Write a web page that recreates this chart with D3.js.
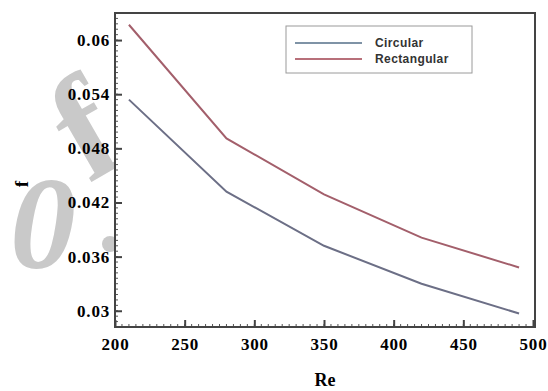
<!DOCTYPE html>
<html>
<head>
<meta charset="utf-8">
<script src="https://cdn.jsdelivr.net/npm/d3@7"></script>
<style>
  body { margin: 0; background: #fff; }
  svg { display: block; }
</style>
</head>
<body>
<svg id="board"></svg>
<script>
// data
let reValues = [210, 280, 350, 420, 490]
let circular = [0.0534, 0.0432, 0.0372, 0.0330, 0.0297]
let rectangular = [0.0617, 0.0491, 0.0429, 0.0381, 0.0348]
let seriesNames = ['Circular', 'Rectangular']
let xTicks = [200, 250, 300, 350, 400, 450, 500]
let yTicks = [0.03, 0.036, 0.042, 0.048, 0.054, 0.06]
let yTickLabels = ['0.03', '0.036', '0.042', '0.048', '0.054', '0.06']

let width = 548
let height = 391
let plotLeft = 115, plotRight = 535, plotTop = 13, plotBottom = 327

let board = d3.select('#board')
    .attr('width', width)
    .attr('height', height)

let xScale = d3.scaleLinear().domain([200, 500]).range([plotLeft, 533])
let yScale = d3.scaleLinear().domain([0.0282, 0.063]).range([plotBottom, plotTop])

// watermark in the background
let wm = board.append('g')
    .attr('fill', '#c9c9c9')
    .style('font-family', '"Liberation Serif", serif')
wm.append('text')
    .attr('x', 43).attr('y', 268)
    .attr('text-anchor', 'middle')
    .style('font-size', '132px')
    .style('font-style', 'italic')
    .style('font-weight', 'bold')
    .text('0')
wm.append('text')
    .attr('transform', 'translate(88,184) rotate(-30)')
    .style('font-size', '148px')
    .style('font-weight', 'bold')
    .text('f')
wm.append('circle')
    .attr('cx', 110).attr('cy', 244).attr('r', 8)

// plot area
board.append('rect')
    .attr('x', plotLeft).attr('y', plotTop)
    .attr('width', plotRight - plotLeft).attr('height', plotBottom - plotTop)
    .attr('fill', '#fff')

// minor ticks
let minorY = d3.range(0.0288, 0.063, 0.0006)
board.append('g').selectAll('line')
    .data(minorY)
    .enter().append('line')
    .attr('x1', plotLeft).attr('x2', plotLeft + 3)
    .attr('y1', d => yScale(d)).attr('y2', d => yScale(d))
    .attr('stroke', '#555').attr('stroke-width', 1)

let minorX = d3.range(205, 500, 5)
board.append('g').selectAll('line')
    .data(minorX)
    .enter().append('line')
    .attr('x1', d => xScale(d)).attr('x2', d => xScale(d))
    .attr('y1', plotBottom).attr('y2', plotBottom - 3)
    .attr('stroke', '#555').attr('stroke-width', 1)

// axes
let yAxis = d3.axisLeft(yScale)
    .tickValues(yTicks)
    .tickSizeInner(-7)
    .tickSizeOuter(0)
    .tickPadding(5)
    .tickFormat((d, i) => yTickLabels[i])
board.append('g')
    .attr('transform', 'translate(' + plotLeft + ',0)')
    .call(yAxis)

let xAxis = d3.axisBottom(xScale)
    .tickValues(xTicks)
    .tickSizeInner(-7)
    .tickSizeOuter(0)
    .tickPadding(11)
    .tickFormat(d3.format('d'))
board.append('g')
    .attr('transform', 'translate(0,' + plotBottom + ')')
    .call(xAxis)

board.selectAll('.domain').remove()
board.selectAll('.tick line').attr('stroke', '#444').attr('stroke-width', 2)
board.selectAll('.tick text')
    .attr('fill', '#000')
    .style('font-family', '"Liberation Serif", serif')
    .style('font-weight', 'bold')
    .style('font-size', '17px')
    .style('letter-spacing', '0.8px')

// frame
board.append('rect')
    .attr('x', plotLeft).attr('y', plotTop)
    .attr('width', plotRight - plotLeft).attr('height', plotBottom - plotTop)
    .attr('fill', 'none')
    .attr('stroke', '#444')
    .attr('stroke-width', 2)

// lines
let line = d3.line()
    .x((d, i) => xScale(reValues[i]))
    .y(d => yScale(d))

board.append('path')
    .datum(circular)
    .attr('d', line)
    .attr('fill', 'none')
    .attr('stroke', '#6c6f86')
    .attr('stroke-width', 2)

board.append('path')
    .datum(rectangular)
    .attr('d', line)
    .attr('fill', 'none')
    .attr('stroke', '#a35f6b')
    .attr('stroke-width', 2)

// legend
let legend = board.append('g')
legend.append('rect')
    .attr('x', 286).attr('y', 26)
    .attr('width', 186).attr('height', 47)
    .attr('fill', '#fff')
    .attr('stroke', '#9a9a9a')
    .attr('stroke-width', 1)
let legendColors = ['#7f93a6', '#b8707a']
seriesNames.forEach((name, i) => {
    let y = 43 + i * 16
    legend.append('line')
        .attr('x1', 295).attr('x2', 362)
        .attr('y1', y).attr('y2', y)
        .attr('stroke', legendColors[i])
        .attr('stroke-width', 2)
    legend.append('text')
        .attr('x', 375).attr('y', y + 4)
        .attr('fill', '#333')
        .style('font-family', '"Liberation Sans", sans-serif')
        .style('font-weight', 'bold')
        .style('font-size', '12px')
        .style('letter-spacing', '0.4px')
        .text(name)
})

// axis titles
board.append('text')
    .attr('x', 325).attr('y', 386)
    .attr('text-anchor', 'middle')
    .style('font-family', '"Liberation Serif", serif')
    .style('font-weight', 'bold')
    .style('font-size', '18px')
    .text('Re')

board.append('text')
    .attr('transform', 'translate(28,184) rotate(-90)')
    .attr('text-anchor', 'middle')
    .style('font-family', '"Liberation Serif", serif')
    .style('font-weight', 'bold')
    .style('font-size', '19px')
    .text('f')
</script>
</body>
</html>
